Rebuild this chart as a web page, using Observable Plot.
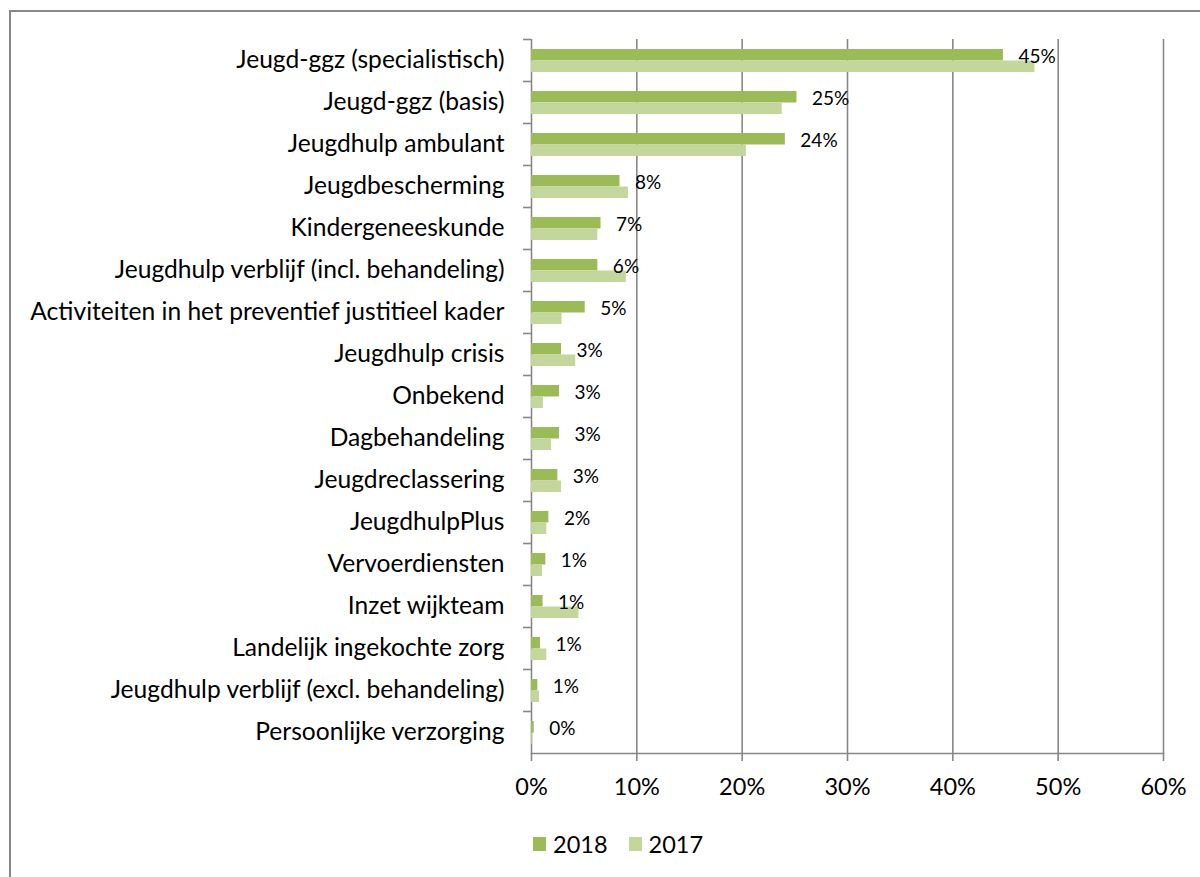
<!DOCTYPE html>
<html>
<head>
<meta charset="utf-8">
<script src="https://cdn.jsdelivr.net/npm/d3@7"></script>
<script src="https://cdn.jsdelivr.net/npm/@observablehq/plot@0.6"></script>
<style>
  html, body { margin: 0; padding: 0; background: #fff; }
  #wrap { position: relative; width: 1200px; height: 877px; overflow: hidden; font-family: Lato, "Open Sans", sans-serif; }
  #border { position: absolute; left: 9px; top: 10px; width: 1300px; height: 900px; border-left: 2px solid #888; border-top: 2px solid #888; box-sizing: border-box; }
  #chart { position: absolute; left: 0; top: 0; }
  #legend { position: absolute; top: 830px; left: 533px; display: flex; align-items: center; font-size: 23.5px; color: #000; }
  .sw { width: 13px; height: 14px; display: inline-block; margin-right: 7px; }
  .item { display: flex; align-items: center; margin-right: 21px; }
</style>
</head>
<body>
<div id="wrap">
  <div id="border"></div>
  <div id="chart"></div>
  <div id="legend"></div>
</div>
<script>
const categories = [
  "Jeugd-ggz (specialistisch)",
  "Jeugd-ggz (basis)",
  "Jeugdhulp ambulant",
  "Jeugdbescherming",
  "Kindergeneeskunde",
  "Jeugdhulp verblijf (incl. behandeling)",
  "Activiteiten in het preventief justitieel kader",
  "Jeugdhulp crisis",
  "Onbekend",
  "Dagbehandeling",
  "Jeugdreclassering",
  "JeugdhulpPlus",
  "Vervoerdiensten",
  "Inzet wijkteam",
  "Landelijk ingekochte zorg",
  "Jeugdhulp verblijf (excl. behandeling)",
  "Persoonlijke verzorging"
];
const values2018 = [0.448, 0.252, 0.241, 0.084, 0.066, 0.063, 0.051, 0.0285, 0.0266, 0.0266, 0.025, 0.0165, 0.0136, 0.011, 0.0085, 0.006, 0.0026];
const values2017 = [0.478, 0.238, 0.204, 0.092, 0.063, 0.090, 0.029, 0.042, 0.0114, 0.019, 0.0285, 0.0145, 0.0104, 0.045, 0.0145, 0.0076, 0.0007];
const labels2018 = ["45%", "25%", "24%", "8%", "7%", "6%", "5%", "3%", "3%", "3%", "3%", "2%", "1%", "1%", "1%", "1%", "0%"];
const xTicks = [0, 0.1, 0.2, 0.3, 0.4, 0.5, 0.6];
const seriesNames = ["2018", "2017"];
const seriesColors = ["#9BBB59", "#C3D69B"];

const rows = categories.map((c, i) => ({category: c, v2018: values2018[i], v2017: values2017[i], label: labels2018[i]}));

const font = "Lato, 'Open Sans', sans-serif";
const chart = Plot.plot({
  width: 1200,
  height: 877,
  marginLeft: 531,
  marginRight: 37,
  marginTop: 39,
  marginBottom: 124,
  style: {fontFamily: font, background: "transparent", color: "#000", overflow: "visible"},
  x: {domain: [0, 0.6], ticks: xTicks},
  y: {domain: categories, padding: 0},
  marks: [
    Plot.gridX(xTicks, {stroke: "#888", strokeOpacity: 1, strokeWidth: 1.6}),
    Plot.barX(rows, {x: "v2018", y: "category", fill: seriesColors[0], insetTop: 10, insetBottom: 20.5}),
    Plot.barX(rows, {x: "v2017", y: "category", fill: seriesColors[1], insetTop: 21.5, insetBottom: 9}),
    Plot.text(rows, {x: "v2018", y: "category", text: "label", dx: 15, dy: -4, textAnchor: "start", fontSize: 19, fill: "#000"}),
    Plot.frame({anchor: "bottom", stroke: "#888", strokeWidth: 1.6}),
    Plot.axisX(xTicks, {tickSize: 8, tickPadding: 17, fontSize: 23.5, stroke: "#888", strokeWidth: 1.6, tickFormat: d3.format(".0%"), fill: "#000", label: null}),
    Plot.axisY({tickSize: 8, dy: -21, text: null, stroke: "#888", strokeWidth: 1.6, label: null}),
    Plot.axisY({tickSize: 0, tickPadding: 27, fontSize: 24.6, fill: "#000", label: null})
  ]
});
document.getElementById("chart").appendChild(chart);

const legend = document.getElementById("legend");
seriesNames.forEach((n, i) => {
  const it = document.createElement("div");
  it.className = "item";
  const sw = document.createElement("span");
  sw.className = "sw";
  sw.style.background = seriesColors[i];
  it.appendChild(sw);
  it.appendChild(document.createTextNode(n));
  legend.appendChild(it);
});
</script>
</body>
</html>
